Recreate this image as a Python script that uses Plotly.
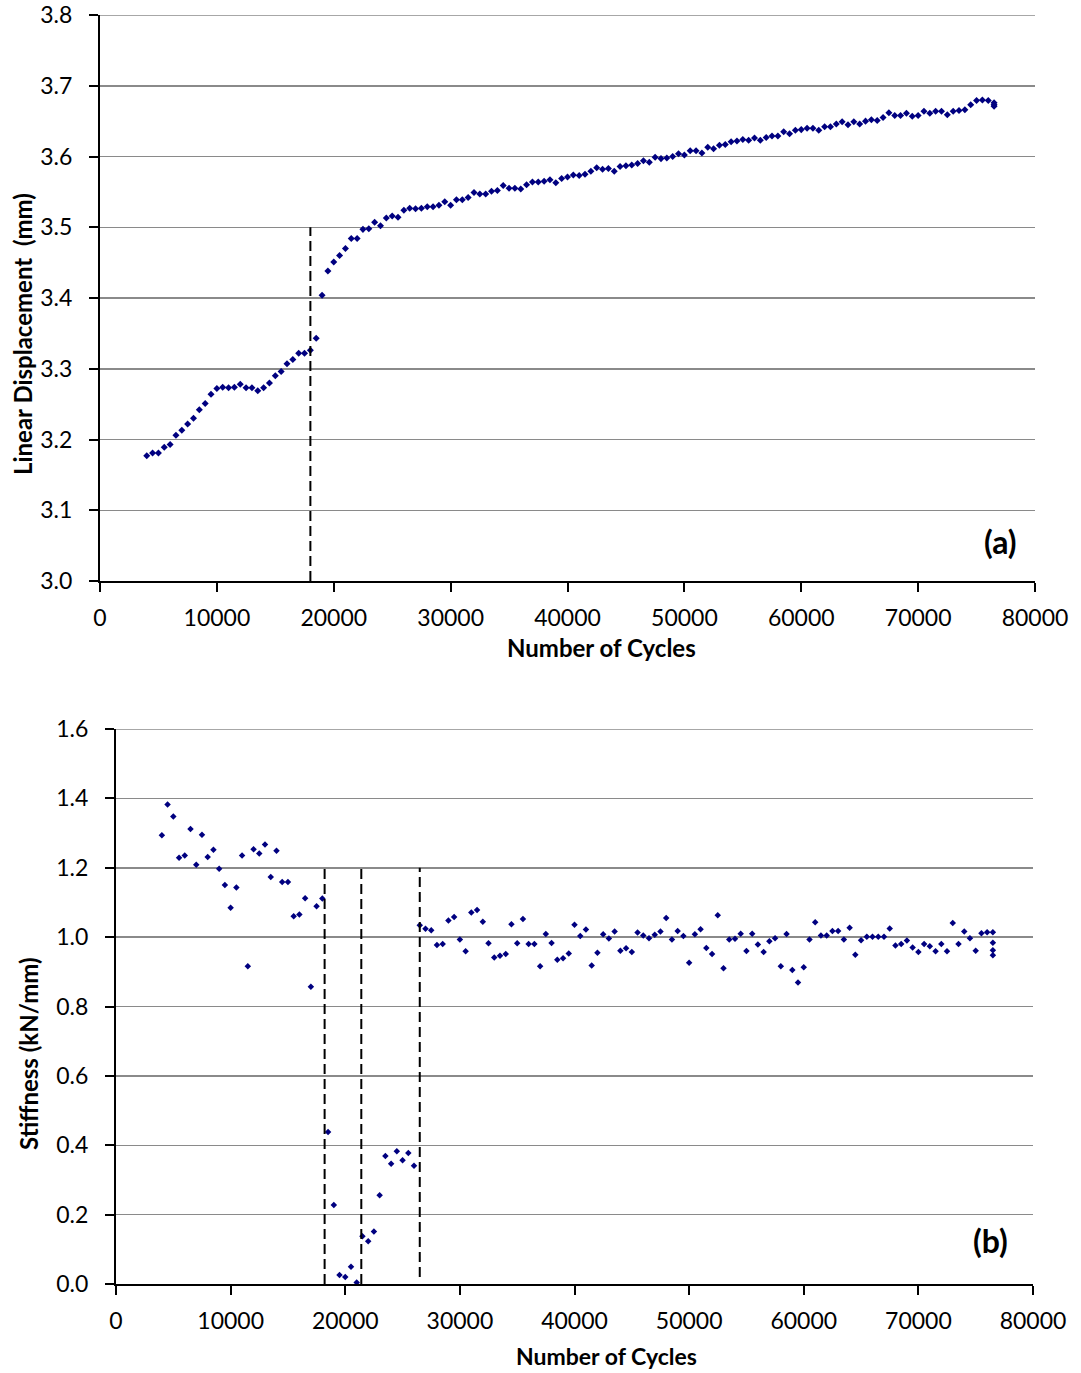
import plotly.graph_objects as go

# ---------------- data ----------------
cycles = [4000, 4500, 5000, 5500, 6000, 6500, 7000, 7500, 8000, 8500, 9000, 9500,
          10000, 10500, 11000, 11500, 12000, 12500, 13000, 13500, 14000, 14500, 15000, 15500,
          16000, 16500, 17000, 17500, 18000, 18500, 19000, 19500, 20000, 20500, 21000, 21500,
          22000, 22500, 23000, 23500, 24000, 24500, 25000, 25500, 26000, 26500, 27000, 27500,
          28000, 28500, 29000, 29500, 30000, 30500, 31000, 31500, 32000, 32500, 33000, 33500,
          34000, 34500, 35000, 35500, 36000, 36500, 37000, 37500, 38000, 38500, 39000, 39500,
          40000, 40500, 41000, 41500, 42000, 42500, 43000, 43500, 44000, 44500, 45000, 45500,
          46000, 46500, 47000, 47500, 48000, 48500, 49000, 49500, 50000, 50500, 51000, 51500,
          52000, 52500, 53000, 53500, 54000, 54500, 55000, 55500, 56000, 56500, 57000, 57500,
          58000, 58500, 59000, 59500, 60000, 60500, 61000, 61500, 62000, 62500, 63000, 63500,
          64000, 64500, 65000, 65500, 66000, 66500, 67000, 67500, 68000, 68500, 69000, 69500,
          70000, 70500, 71000, 71500, 72000, 72500, 73000, 73500, 74000, 74500, 75000, 75500,
          76000, 76500]
cycles_end_a = [76500, 76500]
cycles_end_b = [76500, 76500, 76500]

displacement = [3.177, 3.181, 3.181, 3.189, 3.193, 3.206, 3.213, 3.222, 3.230, 3.242, 3.251, 3.264,
                3.272, 3.274, 3.273, 3.274, 3.278, 3.273, 3.273, 3.269, 3.273, 3.280, 3.290, 3.296,
                3.307, 3.313, 3.322, 3.322, 3.326, 3.343, 3.404, 3.438, 3.451, 3.460, 3.470, 3.484,
                3.484, 3.497, 3.498, 3.507, 3.502, 3.513, 3.516, 3.514, 3.524, 3.527, 3.526, 3.527,
                3.529, 3.529, 3.531, 3.536, 3.531, 3.539, 3.539, 3.542, 3.549, 3.547, 3.547, 3.551,
                3.552, 3.559, 3.555, 3.555, 3.554, 3.560, 3.564, 3.564, 3.565, 3.567, 3.563, 3.569,
                3.571, 3.574, 3.573, 3.575, 3.579, 3.584, 3.582, 3.583, 3.579, 3.586, 3.587, 3.588,
                3.590, 3.594, 3.592, 3.599, 3.597, 3.598, 3.600, 3.604, 3.602, 3.608, 3.608, 3.605,
                3.613, 3.611, 3.616, 3.617, 3.621, 3.622, 3.624, 3.623, 3.626, 3.623, 3.627, 3.629,
                3.629, 3.635, 3.632, 3.637, 3.638, 3.640, 3.640, 3.637, 3.642, 3.642, 3.646, 3.649,
                3.645, 3.649, 3.646, 3.650, 3.652, 3.651, 3.655, 3.662, 3.658, 3.658, 3.661, 3.657,
                3.658, 3.664, 3.661, 3.664, 3.664, 3.659, 3.664, 3.665, 3.666, 3.673, 3.679, 3.680,
                3.679, 3.676]
displacement_end = [3.673, 3.671]

stiffness = [1.294, 1.382, 1.348, 1.229, 1.235, 1.312, 1.209, 1.295, 1.231, 1.252, 1.197, 1.150,
             1.085, 1.143, 1.235, 0.916, 1.253, 1.241, 1.267, 1.173, 1.249, 1.159, 1.159, 1.060,
             1.065, 1.112, 0.857, 1.089, 1.111, 0.438, 0.228, 0.026, 0.020, 0.050, 0.004, 0.138,
             0.123, 0.151, 0.256, 0.369, 0.347, 0.383, 0.357, 0.378, 0.341, 1.034, 1.024, 1.020,
             0.977, 0.980, 1.048, 1.058, 0.993, 0.959, 1.071, 1.078, 1.044, 0.982, 0.941, 0.946,
             0.951, 1.037, 0.982, 1.052, 0.980, 0.980, 0.916, 1.009, 0.983, 0.935, 0.939, 0.953,
             1.036, 1.003, 1.022, 0.918, 0.955, 1.008, 0.996, 1.016, 0.961, 0.968, 0.957, 1.013,
             1.005, 0.997, 1.007, 1.016, 1.055, 0.993, 1.018, 1.003, 0.926, 1.008, 1.023, 0.969,
             0.951, 1.063, 0.910, 0.993, 0.995, 1.010, 0.960, 1.010, 0.979, 0.957, 0.988, 0.997,
             0.916, 1.009, 0.905, 0.869, 0.913, 0.993, 1.043, 1.005, 1.005, 1.018, 1.018, 0.993,
             1.027, 0.949, 0.991, 1.001, 1.001, 1.001, 1.001, 1.025, 0.976, 0.980, 0.990, 0.970,
             0.957, 0.980, 0.974, 0.959, 0.980, 0.959, 1.041, 0.980, 1.016, 0.997, 0.961, 1.011,
             1.014, 1.014]
stiffness_end = [0.984, 0.962, 0.948]

# vertical dashed reference lines: (cycle, bottom value, top value)
ref_lines_a = [(18000, 3.0, 3.5)]
ref_lines_b = [(18200, 0.0, 1.2), (21400, 0.0, 1.2), (26500, 0.02, 1.2)]

x_ticks = [0, 10000, 20000, 30000, 40000, 50000, 60000, 70000, 80000]
y_ticks_a = [3.0, 3.1, 3.2, 3.3, 3.4, 3.5, 3.6, 3.7, 3.8]
y_ticks_b = [0.0, 0.2, 0.4, 0.6, 0.8, 1.0, 1.2, 1.4, 1.6]

# ---------------- figure ----------------
W, H = 1081, 1373
FONT = "Lato, 'Open Sans', sans-serif"
NAVY = "#000080"
GRID = "#8a8a8a"

fig = go.Figure()
fig.add_trace(go.Scatter(x=cycles + cycles_end_a, y=displacement + displacement_end,
                         mode="markers", xaxis="x", yaxis="y",
                         marker=dict(symbol="diamond", size=5.4, color=NAVY),
                         showlegend=False))
fig.add_trace(go.Scatter(x=cycles + cycles_end_b, y=stiffness + stiffness_end,
                         mode="markers", xaxis="x2", yaxis="y2",
                         marker=dict(symbol="diamond", size=5.0, color=NAVY),
                         showlegend=False))

def px_x(p):
    return p / W

def px_y(p):
    return 1 - p / H

common_x = dict(range=[0, 80000], tickvals=x_ticks, ticktext=[str(v) for v in x_ticks],
                ticks="outside", ticklen=9, tickwidth=2, tickcolor="black",
                showline=True, linecolor="black", linewidth=2, showgrid=False,
                zeroline=False, tickfont=dict(family=FONT, size=23, color="black"),
                fixedrange=True, automargin=False, ticklabelstandoff=6)
common_y = dict(ticks="outside", ticklen=9, tickwidth=2, tickcolor="black",
                showline=True, linecolor="black", linewidth=2, showgrid=True,
                gridcolor=GRID, gridwidth=1.5, zeroline=False, automargin=False,
                tickfont=dict(family=FONT, size=23, color="black"), fixedrange=True,
                ticklabelstandoff=12)

fig.update_layout(
    width=W, height=H,
    margin=dict(l=0, r=0, t=0, b=0, autoexpand=False),
    paper_bgcolor="white", plot_bgcolor="white",
    font=dict(family=FONT, color="black"),
    xaxis=dict(domain=[px_x(100), px_x(1035)], anchor="y", **common_x),
    yaxis=dict(domain=[px_y(581), px_y(15)], anchor="x", range=[3.0, 3.8],
               tickvals=y_ticks_a, ticktext=[f"{v:.1f}" for v in y_ticks_a], **common_y),
    xaxis2=dict(domain=[px_x(116), px_x(1033)], anchor="y2", **common_x),
    yaxis2=dict(domain=[px_y(1284), px_y(729)], anchor="x2", range=[0, 1.6],
                tickvals=y_ticks_b, ticktext=[f"{v:.1f}" for v in y_ticks_b], **common_y),
)

shapes = []
# gridline at the top of each value range
shapes.append(dict(type="line", xref="x domain", yref="y", x0=0, x1=1,
                   y0=y_ticks_a[-1], y1=y_ticks_a[-1], line=dict(color=GRID, width=1.5)))
shapes.append(dict(type="line", xref="x2 domain", yref="y2", x0=0, x1=1,
                   y0=y_ticks_b[-1], y1=y_ticks_b[-1], line=dict(color=GRID, width=1.5)))
for cx, y0, y1 in ref_lines_a:
    shapes.append(dict(type="line", xref="x", yref="y", x0=cx, x1=cx, y0=y0, y1=y1,
                       line=dict(color="black", width=2, dash="10px,5px")))
for cx, y0, y1 in ref_lines_b:
    shapes.append(dict(type="line", xref="x2", yref="y2", x0=cx, x1=cx, y0=y0, y1=y1,
                       line=dict(color="black", width=2, dash="10px,5px")))
fig.update_layout(shapes=shapes)

ann = []
title_font = dict(family=FONT, size=24, color="black", weight="bold")
ann.append(dict(text="Number of Cycles", x=px_x(601), y=px_y(647), xref="paper", yref="paper",
                showarrow=False, font=title_font, xanchor="center", yanchor="middle"))
ann.append(dict(text="Number of Cycles", x=px_x(606), y=px_y(1356),
                xref="paper", yref="paper", showarrow=False,
                font=dict(family=FONT, size=23, color="black", weight="bold"),
                xanchor="center", yanchor="middle"))
ann.append(dict(text="Linear Displacement  (mm)", x=px_x(22), y=px_y(334), xref="paper",
                yref="paper", showarrow=False, font=title_font, textangle=-90,
                xanchor="center", yanchor="middle"))
ann.append(dict(text="Stiffness (kN/mm)", x=px_x(28), y=px_y(1054), xref="paper",
                yref="paper", showarrow=False, font=title_font, textangle=-90,
                xanchor="center", yanchor="middle"))
label_font = dict(family=FONT, size=32, color="black", weight="bold")
ann.append(dict(text="(a)", x=px_x(1000), y=px_y(541), xref="paper", yref="paper",
                showarrow=False, font=label_font, xanchor="center", yanchor="middle"))
ann.append(dict(text="(b)", x=px_x(990), y=px_y(1240), xref="paper", yref="paper",
                showarrow=False, font=label_font, xanchor="center", yanchor="middle"))
fig.update_layout(annotations=ann)

fig.write_html("out.html",
               config={"displayModeBar": False, "staticPlot": True},
               post_script="document.documentElement.style.margin='0';"
                           "document.body.style.margin='0';"
                           "document.body.style.overflow='hidden';")
